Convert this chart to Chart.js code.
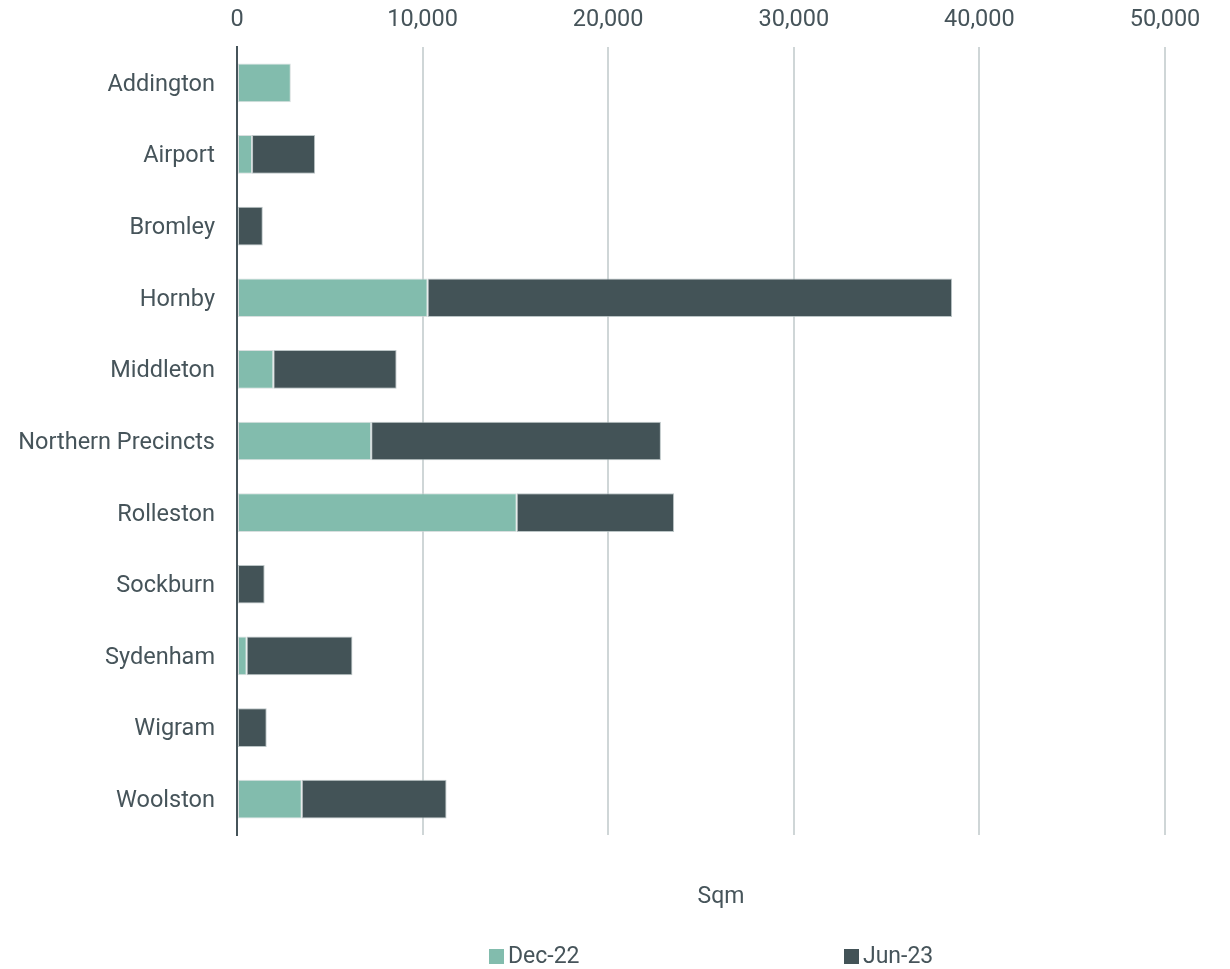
<!DOCTYPE html>
<html>
<head>
<meta charset="utf-8">
<script src="https://cdn.jsdelivr.net/npm/chart.js@4.4.1/dist/chart.umd.min.js"></script>
<style>
  html, body { margin: 0; padding: 0; background: #ffffff; }
  #wrap { position: relative; width: 1230px; height: 969px; }
</style>
</head>
<body>
<div id="wrap"><canvas id="c"></canvas></div>
<script>
const categories = ["Addington", "Airport", "Bromley", "Hornby", "Middleton", "Northern Precincts", "Rolleston", "Sockburn", "Sydenham", "Wigram", "Woolston"];
const seriesNames = ["Dec-22", "Jun-23"];
const dec22 = [2900, 810, 0, 10270, 1960, 7230, 15070, 0, 520, 0, 3490];
const jun23 = [0, 3400, 1390, 28260, 6640, 15610, 8480, 1490, 5700, 1600, 7800];
const xTickMin = 0;
const xTickMax = 50000;
const xTickStep = 10000;
const axisTitle = "Sqm";

const TEXT = '#46545a';
const FONT = 'Roboto, "Liberation Sans", sans-serif';
const colors = ['#82bcad', '#435357'];

const overlay = {
  id: 'overlay',
  afterDraw(chart) {
    const ctx = chart.ctx;
    const a = chart.chartArea;
    ctx.save();
    ctx.fillStyle = TEXT;
    ctx.font = '23px ' + FONT;
    ctx.textAlign = 'center';
    ctx.textBaseline = 'middle';
    ctx.fillText(axisTitle, a.left + 484, a.bottom + 62);
    const items = [{x: a.left + 252}, {x: a.left + 607}];
    chart.data.datasets.forEach((ds, i) => {
      const x = items[i].x;
      const y = a.bottom + 121;
      ctx.fillStyle = ds.backgroundColor;
      ctx.fillRect(x, y - 7, 15, 15);
      ctx.fillStyle = TEXT;
      ctx.textAlign = 'left';
      ctx.fillText(ds.label, x + 19, y + 1);
    });
    ctx.restore();
  }
};

new Chart(document.getElementById('c'), {
  type: 'bar',
  data: {
    labels: categories,
    datasets: [
      { label: seriesNames[0], data: dec22.map(v => v || null), backgroundColor: colors[0], borderColor: 'rgba(200,210,210,0.7)', borderWidth: 1, borderSkipped: false, categoryPercentage: 1, barPercentage: 0.54 },
      { label: seriesNames[1], data: jun23.map(v => v || null), backgroundColor: colors[1], borderColor: 'rgba(170,182,184,0.8)', borderWidth: 1, borderSkipped: false, categoryPercentage: 1, barPercentage: 0.54 }
    ]
  },
  options: {
    indexAxis: 'y',
    responsive: true,
    maintainAspectRatio: false,
    animation: false,
    layout: { padding: { left: 0, right: 65, top: 0, bottom: 134 } },
    plugins: { legend: { display: false }, tooltip: { enabled: false } },
    scales: {
      x: {
        position: 'top',
        stacked: true,
        min: xTickMin,
        max: xTickMax,
        ticks: {
          stepSize: xTickStep,
          color: TEXT,
          font: { family: FONT, size: 23.5 },
          padding: 13,
          callback: v => v.toLocaleString('en-US')
        },
        grid: { color: '#cfd6d7', lineWidth: 2, drawTicks: false },
        border: { display: false },
        afterFit(s) { s.height = 47; }
      },
      y: {
        stacked: true,
        ticks: { color: TEXT, font: { family: FONT, size: 23.5 }, padding: 22, labelOffset: 2 },
        grid: { display: false, drawTicks: false },
        border: { display: true, color: '#46545a', width: 2 },
        afterFit(s) { s.width = 237; }
      }
    }
  },
  plugins: [overlay]
});
</script>
</body>
</html>
